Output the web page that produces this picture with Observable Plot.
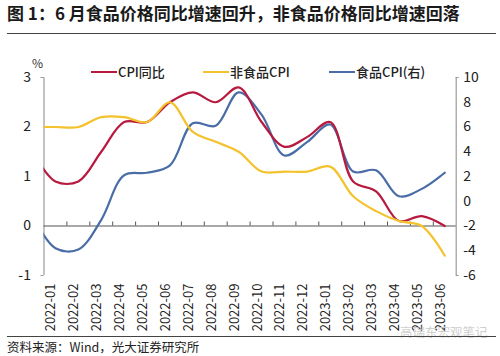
<!DOCTYPE html>
<html>
<head>
<meta charset="utf-8">
<script src="https://cdn.jsdelivr.net/npm/d3@7"></script>
<script src="https://cdn.jsdelivr.net/npm/@observablehq/plot@0.6"></script>
<style>
  body { margin:0; width:500px; height:356px; position:relative; overflow:hidden; background:#fff;
         font-family:"Noto Sans CJK SC","Noto Sans",sans-serif; color:#222; }
  .abs { position:absolute; white-space:nowrap; }
  .title { left:7px; top:1px; font-size:17px; font-weight:bold; line-height:24px; color:#1a1a1a; }
  .hr { left:7px; width:489px; height:0; border-top:1.5px solid #444; }
  .leg { top:63px; font-size:13px; font-weight:500; line-height:18px; color:#222; display:flex; align-items:center; }
  .sw { display:inline-block; width:26px; height:2.2px; margin-right:1px; }
  .cap { left:7px; top:338px; font-size:12.5px; line-height:18px; color:#222; }
  .wm { left:400px; top:323px; font-size:12.5px; line-height:18px; color:#cfcfcf; }
  .pct { left:32px; top:55px; font-size:12px; line-height:16px; color:#333; }
</style>
</head>
<body>
<div id="chart" class="abs" style="left:0;top:0"></div>
<div class="abs title">图 1：6 月食品价格同比增速回升，非食品价格同比增速回落</div>
<div class="abs hr" style="top:33px"></div>
<div class="abs pct">%</div>
<div id="legend"></div>
<div class="abs wm">高瑞东宏观笔记</div>
<div class="abs hr" style="top:336px"></div>
<div class="abs cap">资料来源：Wind，光大证券研究所</div>
<script>
// ---- data (index 0 = 2021-12, lies just left of the visible axis) ----
const months = ["2021-12","2022-01","2022-02","2022-03","2022-04","2022-05","2022-06","2022-07","2022-08","2022-09","2022-10","2022-11","2022-12","2023-01","2023-02","2023-03","2023-04","2023-05","2023-06"];
const cpi     = [1.5, 0.9, 0.9, 1.5, 2.1, 2.1, 2.5, 2.7, 2.5, 2.8, 2.1, 1.6, 1.8, 2.1, 0.9, 0.7, 0.1, 0.2, 0.0];
const nonfood = [2.0, 2.0, 2.0, 2.2, 2.2, 2.1, 2.5, 1.9, 1.7, 1.5, 1.1, 1.1, 1.1, 1.2, 0.6, 0.3, 0.1, 0.0, -0.6];
const food    = [-1.2, -3.8, -3.9, -1.5, 2.1, 2.3, 2.9, 6.3, 6.1, 8.8, 7.0, 3.7, 4.8, 6.2, 2.4, 2.5, 0.4, 1.0, 2.3];
const leftTicks  = [-1, 0, 1, 2, 3];
const rightTicks = [-6, -4, -2, 0, 2, 4, 6, 8, 10];
const seriesNames = ["CPI同比", "非食品CPI", "食品CPI(右)"];
const colors = ["#B8193F", "#F3C22C", "#4A6DA7"];

// ---- scales ----
const yDomain = [leftTicks[0], leftTicks[leftTicks.length - 1]];
const rDomain = [rightTicks[0], rightTicks[rightTicks.length - 1]];
const toLeft = v => yDomain[0] + (v - rDomain[0]) / (rDomain[1] - rDomain[0]) * (yDomain[1] - yDomain[0]);
const shown = d3.range(1, months.length);
const xDomain = [shown[0] - 0.5, shown[shown.length - 1] + 0.5];
const bounds = d3.range(xDomain[0] + 1, xDomain[1], 1);

const rows = months.map((m, i) => ({i, m, cpi: cpi[i], nonfood: nonfood[i], food: toLeft(food[i])}));

const lineOpts = {x: "i", curve: "catmull-rom", strokeWidth: 2.2, clip: true};
const axisColor = "#9a9a9a";

const chart = Plot.plot({
  width: 500, height: 340,
  marginTop: 77, marginBottom: 65, marginLeft: 43.5, marginRight: 44.3,
  x: {domain: xDomain, axis: null},
  y: {domain: yDomain, axis: null},
  style: {fontFamily: "'Noto Sans CJK SC','Noto Sans',sans-serif", fontSize: "13px", color: "#222", background: "transparent", overflow: "visible"},
  marks: [
    // axis lines
    Plot.ruleX([xDomain[0]], {y1: yDomain[0], y2: yDomain[1], stroke: axisColor, strokeWidth: 1.2}),
    Plot.ruleX([xDomain[1]], {y1: yDomain[0], y2: yDomain[1], stroke: axisColor, strokeWidth: 1.2}),
    // end ticks on the value axes
    Plot.ruleY(yDomain, {y: d => d, x1: xDomain[0], x2: xDomain[0], insetLeft: -3, stroke: axisColor}),
    Plot.ruleY(yDomain, {y: d => d, x1: xDomain[1], x2: xDomain[1], insetRight: -3, stroke: axisColor}),
    Plot.ruleY([0], {stroke: "#555", strokeWidth: 1.2}),
    Plot.ruleX(bounds, {x: d => d, y1: 0, y2: 0, insetBottom: 4, stroke: "#555"}),
    // lines
    Plot.line(rows, {...lineOpts, y: "food", stroke: colors[2]}),
    Plot.line(rows, {...lineOpts, y: "cpi", stroke: colors[0]}),
    Plot.line(rows, {...lineOpts, y: "nonfood", stroke: colors[1]}),
    // left tick labels
    Plot.text(leftTicks, {y: d => d, frameAnchor: "left", dx: -13, textAnchor: "end", text: d => String(d), fontSize: 14}),
    // right tick labels
    Plot.text(rightTicks, {y: d => toLeft(d), frameAnchor: "right", dx: 7, textAnchor: "start", text: d => String(d), fontSize: 14}),
    // x labels
    Plot.text(shown, {x: d => d, frameAnchor: "bottom", dy: 8, rotate: -90, textAnchor: "end", text: d => months[d], fontSize: 13})
  ]
});
document.getElementById("chart").appendChild(chart);

// legend
const legPos = [91, 203, 329];
const leg = document.getElementById("legend");
seriesNames.forEach((n, k) => {
  const d = document.createElement("div");
  d.className = "abs leg";
  d.style.left = legPos[k] + "px";
  d.innerHTML = `<span class="sw" style="background:${colors[k]}"></span><span>${n}</span>`;
  leg.appendChild(d);
});
</script>
</body>
</html>
